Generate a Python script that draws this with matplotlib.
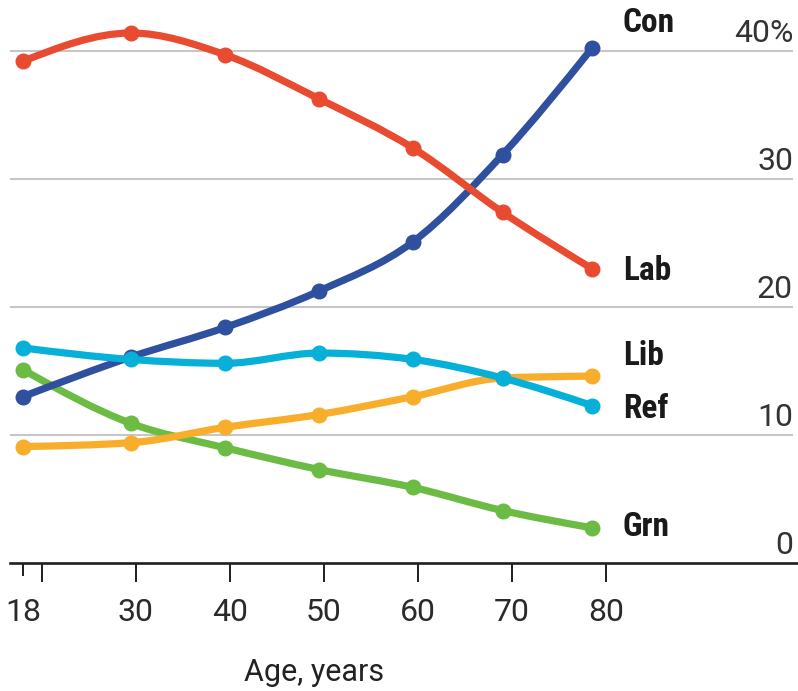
import numpy as np
import matplotlib.pyplot as plt
from matplotlib.path import Path
from matplotlib.patches import PathPatch

# vote share by age, %
ages = [18, 29.5, 39.5, 49.5, 59.5, 69, 78.5]
con = [13.0, 16.1, 18.4, 21.25, 25.1, 31.9, 40.2]
lab = [39.2, 41.4, 39.7, 36.25, 32.4, 27.4, 23.0]
lib = [16.8, 15.9, 15.6, 16.4, 15.9, 14.45, 12.3]
ref = [9.1, 9.4, 10.6, 11.6, 13.0, 14.45, 14.6]
grn = [15.1, 10.9, 9.0, 7.3, 5.9, 4.1, 2.75]

parties = ['Con', 'Lab', 'Lib', 'Ref', 'Grn']
series = [con, lab, lib, ref, grn]
colors = ['#2f4f9f', '#e94b30', '#06b0d8', '#f8ae2a', '#6bbb44']
zorders = [3, 4, 6, 5, 2]
label_y = [42.2, 22.8, 16.2, 12.0, 2.8]

xticks = [20, 30, 40, 50, 60, 70, 80]
xticklabels = ['', '30', '40', '50', '60', '70', '80']
ygrid = [10, 20, 30, 40]
ylabels = ['10', '20', '30', '40%']

plt.rcParams['font.family'] = ['Roboto', 'Liberation Sans', 'DejaVu Sans']
label_font = ['Roboto Condensed', 'Liberation Sans Narrow', 'DejaVu Sans']


def monotone_path(x, y):
    # monotone cubic (Fritsch-Carlson) as bezier segments
    x = np.asarray(x, float)
    y = np.asarray(y, float)
    h = np.diff(x)
    s = np.diff(y) / h
    m = np.zeros_like(y)
    for i in range(1, len(x) - 1):
        if s[i - 1] * s[i] <= 0:
            m[i] = 0
        else:
            p = (s[i - 1] * h[i] + s[i] * h[i - 1]) / (h[i - 1] + h[i])
            m[i] = (np.sign(s[i - 1]) + np.sign(s[i])) * min(abs(s[i - 1]), abs(s[i]), 0.5 * abs(p))
    m[0] = (3 * s[0] - m[1]) / 2
    m[-1] = (3 * s[-1] - m[-2]) / 2
    verts = [(x[0], y[0])]
    codes = [Path.MOVETO]
    for i in range(len(x) - 1):
        d = h[i] / 3
        verts += [(x[i] + d, y[i] + m[i] * d),
                  (x[i + 1] - d, y[i + 1] - m[i + 1] * d),
                  (x[i + 1], y[i + 1])]
        codes += [Path.CURVE4] * 3
    return Path(verts, codes)


fig = plt.figure(figsize=(7.98, 6.91), dpi=100)
ax = fig.add_axes([0, 128 / 691, 1, 563 / 691])
ax.set_xlim(15.55, 100.43)
ax.set_ylim(0, 43.98)

for sp in ['top', 'left', 'right']:
    ax.spines[sp].set_visible(False)
ax.spines['bottom'].set_bounds(16.6, 100.43)
ax.spines['bottom'].set_linewidth(1.9)
ax.spines['bottom'].set_color('#1e1e1e')

ax.set_yticks([])
ax.set_xticks(xticks)
ax.set_xticklabels(xticklabels)
ax.set_xticks([18], minor=True)
ax.set_xticklabels(['18'], minor=True)
ax.tick_params(axis='x', which='major', length=14, width=1.4, color='#1e1e1e',
               pad=11, labelsize=23, labelcolor='#2a2a2a')
ax.tick_params(axis='x', which='minor', length=9, width=1.4, color='#1e1e1e',
               pad=16, labelsize=23, labelcolor='#2a2a2a')
ax.set_xlabel('Age, years', fontsize=22, color='#222222')
ax.xaxis.set_label_coords(314 / 798, -95 / 563)

ax.hlines(ygrid, 16.6, 99.9, color='#c6c6c6', lw=1.5, zorder=1)
for v, t in zip([0] + ygrid, ['0'] + ylabels):
    ax.annotate(t, (99.9, v), xytext=(0, 6.5), textcoords='offset points',
                ha='right', va='baseline', fontsize=23, color='#333333')

for name, vals, c, z, ly in zip(parties, series, colors, zorders, label_y):
    ax.add_patch(PathPatch(monotone_path(ages, vals), fill=False, ec=c, lw=5.2,
                           capstyle='round', joinstyle='round', zorder=z))
    ax.plot(ages, vals, 'o', color=c, ms=10.5, zorder=z)
    ax.text(81.8, ly, name, fontsize=24, fontweight='bold', color='#1a1a1a',
            family=label_font, ha='left', va='center')

plt.savefig('out.png', dpi=100)
